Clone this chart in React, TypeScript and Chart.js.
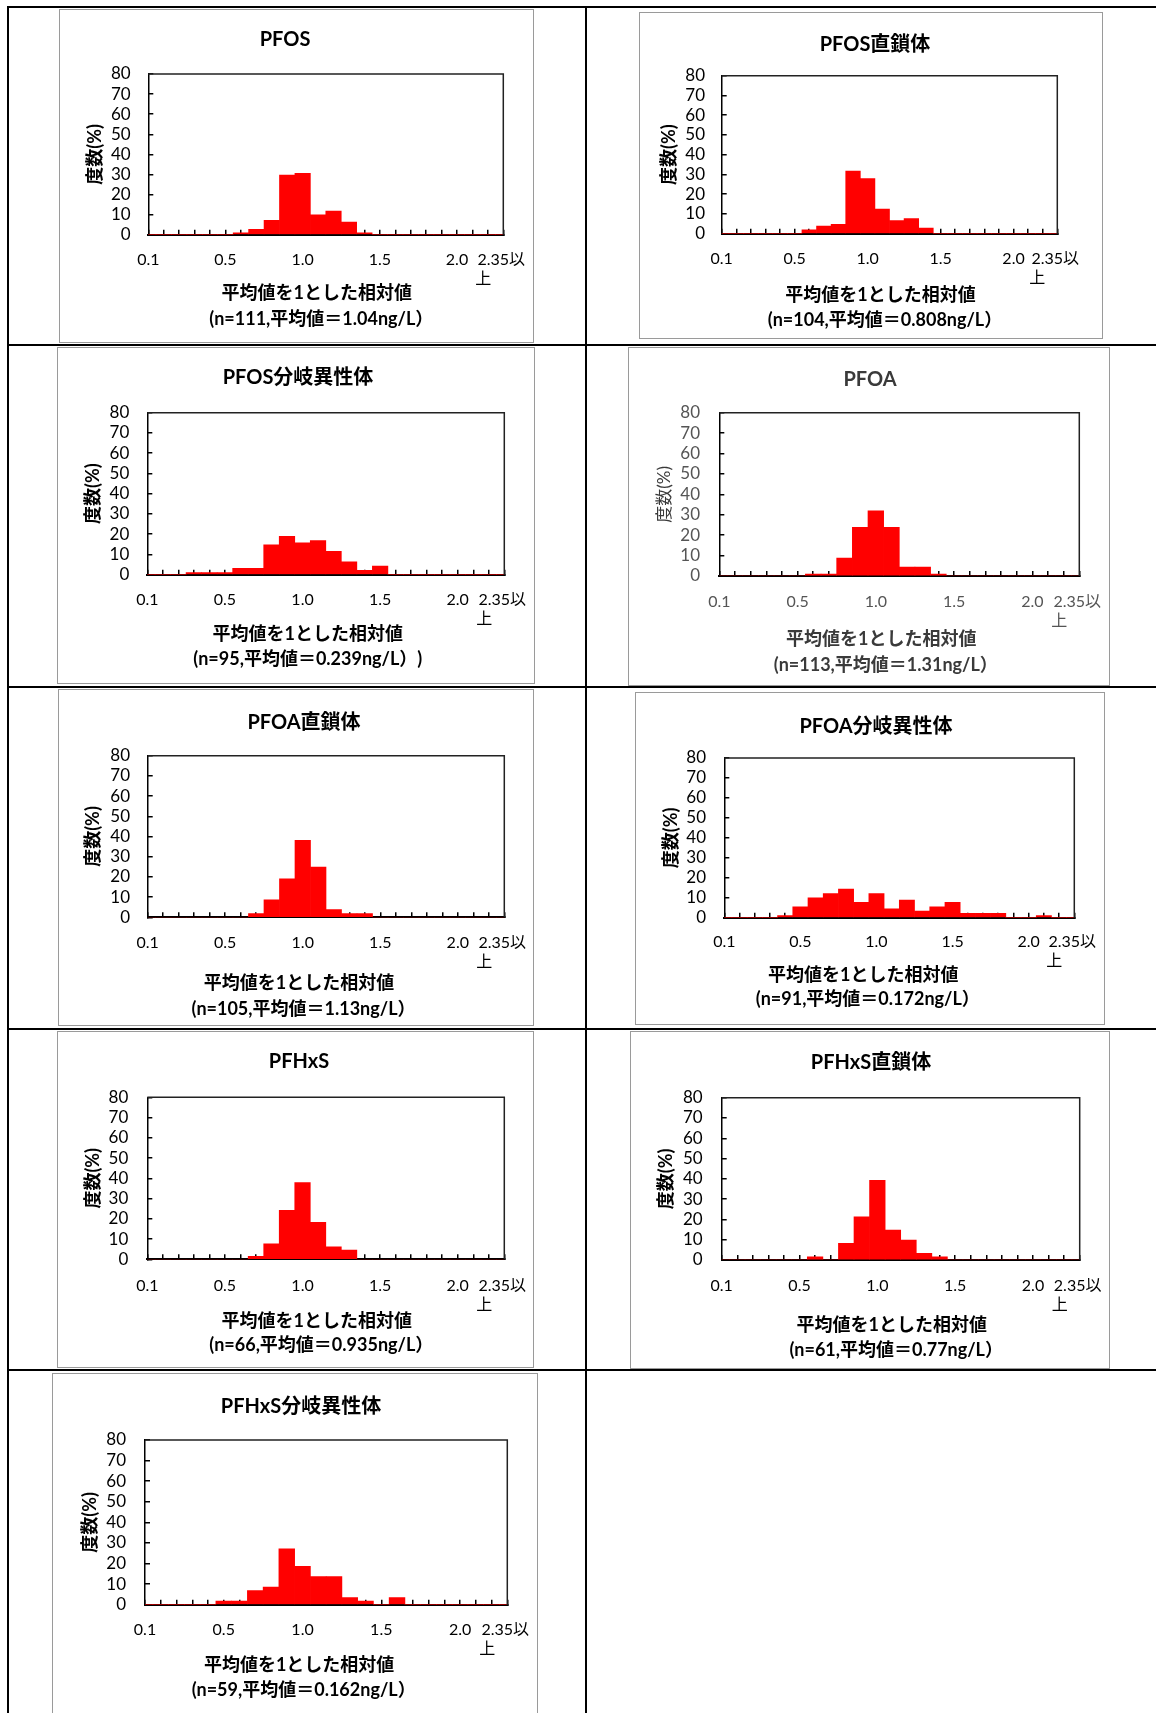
import React, { useEffect, useRef } from 'react';
import { Chart, registerables } from 'chart.js';

Chart.register(...registerables);

const FONT = "Lato, 'Noto Sans CJK JP', 'Noto Sans', sans-serif";

// x axis: 24 bins (index 0..23), labels on selected bins
const X_TICK_LABELS: (string | string[])[] = [
  '0.1', '', '', '', '', '0.5', '', '', '', '', '1.0', '', '', '', '', '1.5', '', '', '', '', '2.0', '', '',
  ['2.35以 ', '上\u3000\u3000\u2002'],
];
const Y_MIN = 0;
const Y_MAX = 80;
const Y_STEP = 10;
const X_AXIS_TITLE = '平均値を1とした相対値';
const Y_AXIS_TITLE = '度数(%)';

const TITLES = [
  'PFOS', 'PFOS直鎖体', 'PFOS分岐異性体', 'PFOA', 'PFOA直鎖体', 'PFOA分岐異性体', 'PFHxS', 'PFHxS直鎖体', 'PFHxS分岐異性体',
];
const NOTES = [
  '(n=111,平均値＝1.04ng/L）',
  '(n=104,平均値＝0.808ng/L）',
  '(n=95,平均値＝0.239ng/L）)',
  '(n=113,平均値＝1.31ng/L）',
  '(n=105,平均値＝1.13ng/L）',
  '(n=91,平均値＝0.172ng/L）',
  '(n=66,平均値＝0.935ng/L）',
  '(n=61,平均値＝0.77ng/L）',
  '(n=59,平均値＝0.162ng/L）',
];

// frequency (%) per bin
const PFOS = [0, 0, 0, 0, 0, 0, 0.9, 2.7, 7.2, 29.7, 30.6, 9.9, 11.7, 6.3, 0.9, 0, 0, 0, 0, 0, 0, 0, 0, 0];
const PFOS_LINEAR = [0, 0, 0, 0, 0, 0, 1.9, 3.8, 4.8, 31.7, 27.9, 12.5, 6.7, 7.7, 2.9, 0, 0, 0, 0, 0, 0, 0, 0, 0];
const PFOS_BRANCHED = [0, 0, 0, 1.1, 1.1, 1.1, 3.2, 3.2, 14.7, 18.9, 15.8, 16.8, 11.6, 6.3, 2.1, 4.2, 0, 0, 0, 0, 0, 0, 0, 0];
const PFOA = [0, 0, 0, 0, 0, 0, 0.9, 0.9, 8.8, 23.9, 31.9, 23.9, 4.4, 4.4, 0.9, 0, 0, 0, 0, 0, 0, 0, 0, 0];
const PFOA_LINEAR = [0, 0, 0, 0, 0, 0, 0, 1.9, 8.6, 19.0, 38.1, 24.8, 3.8, 1.9, 1.9, 0, 0, 0, 0, 0, 0, 0, 0, 0];
const PFOA_BRANCHED = [0, 0, 0, 0, 1.1, 5.5, 9.9, 12.1, 14.3, 7.7, 12.1, 4.4, 8.8, 3.3, 5.5, 7.7, 2.2, 2.2, 2.2, 0, 0, 1.1, 0, 0];
const PFHXS = [0, 0, 0, 0, 0, 0, 0, 1.5, 7.6, 24.2, 37.9, 18.2, 6.1, 4.5, 0, 0, 0, 0, 0, 0, 0, 0, 0, 0];
const PFHXS_LINEAR = [0, 0, 0, 0, 0, 0, 1.6, 0, 8.2, 21.3, 39.3, 14.8, 9.8, 3.3, 1.6, 0, 0, 0, 0, 0, 0, 0, 0, 0];
const PFHXS_BRANCHED = [0, 0, 0, 0, 0, 1.7, 1.7, 6.8, 8.5, 27.1, 18.6, 13.6, 13.6, 3.4, 1.7, 0, 3.4, 0, 0, 0, 0, 0, 0, 0];

const SERIES = [PFOS, PFOS_LINEAR, PFOS_BRANCHED, PFOA, PFOA_LINEAR, PFOA_BRANCHED, PFHXS, PFHXS_LINEAR, PFHXS_BRANCHED];

// page layout (page px): chart box, plot area, text anchors
type Spec = {
  box: [number, number, number, number];
  plot: [number, number, number, number];
  titleCx: number; titleCy: number; yTitleCx: number; yTickGap: number;
  xTick: number; xt1: number; xt2: number; xShift: number; dim?: boolean;
};
const LAYOUT: Spec[] = [
  { box: [59, 9, 475, 334], plot: [148.3, 74, 503.3, 234.7], titleCx: 285, titleCy: 39.3, yTitleCx: 94.7, yTickGap: 17.6, xTick: 25.3, xt1: 58.6, xt2: 84.6, xShift: 1 },
  { box: [639, 12, 464, 327], plot: [721.7, 75.7, 1057.3, 233.7], titleCx: 875, titleCy: 44.8, yTitleCx: 669, yTickGap: 16.7, xTick: 25.3, xt1: 61.3, xt2: 86.3, xShift: 1 },
  { box: [57, 347, 478, 337], plot: [147.3, 412.7, 504.3, 574.7], titleCx: 298, titleCy: 378, yTitleCx: 93, yTickGap: 18, xTick: 25.3, xt1: 59.6, xt2: 84.6, xShift: 2 },
  { box: [628, 347, 482, 339], plot: [719.3, 412.7, 1079.3, 576], titleCx: 870, titleCy: 380, yTitleCx: 664.3, yTickGap: 19.3, xTick: 25.7, xt1: 63.3, xt2: 89, xShift: 2, dim: true },
  { box: [58, 689, 476, 337], plot: [147.7, 755.7, 504.3, 917.3], titleCx: 304, titleCy: 723, yTitleCx: 93, yTickGap: 17.7, xTick: 26, xt1: 66, xt2: 92, xShift: 3 },
  { box: [635, 692, 470, 333], plot: [724.3, 758, 1074.3, 917.7], titleCx: 876, titleCy: 726.6, yTitleCx: 670.8, yTickGap: 18.3, xTick: 24.6, xt1: 57.3, xt2: 81.6, xShift: 4 },
  { box: [57, 1031, 477, 337], plot: [147.3, 1097.3, 504.3, 1259.3], titleCx: 299, titleCy: 1062, yTitleCx: 93.3, yTickGap: 19, xTick: 26.4, xt1: 61.4, xt2: 86, xShift: 1 },
  { box: [630, 1031, 480, 338], plot: [721.7, 1097.7, 1079.7, 1260], titleCx: 871, titleCy: 1063, yTitleCx: 665.8, yTickGap: 19, xTick: 26, xt1: 65, xt2: 90, xShift: 1 },
  { box: [52, 1373, 486, 345], plot: [145, 1440, 507.3, 1604.7], titleCx: 301, titleCy: 1407, yTitleCx: 89.7, yTickGap: 19, xTick: 25.3, xt1: 60.3, xt2: 85.3, xShift: 3 },
];

const TITLE_SIZE = 20;
const TITLE_LH = 24;
const TICK_SIZE = 17;
const TICK_LH = 19;
const YTITLE_SIZE = 18;
const YTITLE_LH = 22;
const XTITLE_SIZE = 18;
const TICK_LEN = -5;
const Y_LABEL_ROOM = 32;

const framePlugin = {
  id: 'plotFrame',
  afterDraw(chart: any) {
    const { ctx, chartArea } = chart;
    const { left, top, right, bottom } = chartArea;
    ctx.save();
    ctx.strokeStyle = '#222';
    ctx.lineWidth = 1.5;
    ctx.beginPath();
    ctx.moveTo(left, top);
    ctx.lineTo(right, top);
    ctx.lineTo(right, bottom);
    ctx.stroke();
    ctx.restore();
  },
};

function Histogram({ idx }: { idx: number }) {
  const ref = useRef<HTMLCanvasElement>(null);
  const s = LAYOUT[idx];
  const [bx, by, bw, bh] = s.box;

  useEffect(() => {
    const [pl, pt, pr, pb] = s.plot;
    const padLAbs = Math.min(2 * s.titleCx - pr, pl - s.yTickGap - Y_LABEL_ROOM);
    const y2W = Math.max(0, 2 * s.titleCx - padLAbs - pr);
    const padL = padLAbs - bx;
    const padR = bx + bw - pr - y2W;
    const yW = pl - padLAbs;
    const titlePadTop = s.titleCy - by - TITLE_LH / 2;
    const titlePadBottom = pt - s.titleCy - TITLE_LH / 2;
    const L = s.xt2 - s.xt1;
    const xH = s.xt2 + L / 2;
    const padB = by + bh - (pb + xH);
    const yTitleLH = s.dim ? 20 : YTITLE_LH;
    const yTitlePad = s.yTitleCx - padLAbs - yTitleLH / 2;
    const textColor = s.dim ? '#3a3a3a' : '#000';
    const tickColor = s.dim ? '#555' : '#000';
    const values = SERIES[idx];
    const pad = '\u3000'.repeat(s.xShift);

    const chart = new Chart(ref.current as HTMLCanvasElement, {
      type: 'bar',
      data: {
        datasets: [
          {
            data: values.map((v, i) => ({ x: i, y: v })),
            backgroundColor: '#FF0000',
            borderWidth: 0,
            barPercentage: 1,
            categoryPercentage: 1,
          },
        ],
      },
      plugins: [framePlugin],
      options: {
        animation: false,
        responsive: false,
        devicePixelRatio: 1,
        layout: { padding: { left: padL, right: padR, top: 0, bottom: padB } },
        plugins: {
          legend: { display: false },
          tooltip: { enabled: false },
          title: {
            display: true,
            text: TITLES[idx],
            color: textColor,
            font: { family: FONT, size: TITLE_SIZE, weight: 'bold', lineHeight: `${TITLE_LH}px` },
            padding: { top: titlePadTop, bottom: titlePadBottom },
          },
        },
        scales: {
          x: {
            type: 'linear',
            min: 0,
            max: 23,
            offset: false,
            z: 1,
            afterBuildTicks: (scale: any) => {
              scale.ticks = X_TICK_LABELS.map((_, i) => ({ value: i }));
            },
            afterFit: (scale: any) => {
              scale.height = xH;
              scale.paddingLeft = 0;
              scale.paddingRight = 0;
            },
            grid: {
              offset: false,
              drawOnChartArea: false,
              drawTicks: true,
              tickLength: TICK_LEN,
              color: '#000',
              lineWidth: 1.5,
            },
            border: { display: true, color: '#000', width: 2 },
            ticks: {
              autoSkip: false,
              maxRotation: 0,
              minRotation: 0,
              padding: s.xTick - TICK_LH / 2 - TICK_LEN,
              color: tickColor,
              font: { family: FONT, size: TICK_SIZE - 1, lineHeight: `${TICK_LH}px` },
              callback: (v: any) => X_TICK_LABELS[Number(v)] ?? '',
            },
            title: {
              display: true,
              text: [X_AXIS_TITLE + pad, NOTES[idx] + pad],
              color: textColor,
              font: { family: FONT, size: XTITLE_SIZE, weight: 'bold', lineHeight: `${L}px` },
              padding: { top: 0, bottom: 0 },
            },
          },
          y: {
            min: Y_MIN,
            max: Y_MAX,
            z: 1,
            afterFit: (scale: any) => {
              scale.width = yW;
              scale.paddingTop = 0;
              scale.paddingBottom = 0;
            },
            grid: {
              drawOnChartArea: false,
              drawTicks: true,
              tickLength: TICK_LEN,
              color: '#000',
              lineWidth: 1.5,
            },
            border: { display: true, color: '#000', width: 1.5 },
            ticks: {
              stepSize: Y_STEP,
              autoSkip: false,
              padding: s.yTickGap - TICK_LEN,
              color: tickColor,
              font: { family: FONT, size: TICK_SIZE, lineHeight: `${TICK_LH}px` },
            },
            title: {
              display: true,
              text: Y_AXIS_TITLE,
              color: textColor,
              font: { family: FONT, size: s.dim ? 17 : YTITLE_SIZE, weight: s.dim ? 'normal' : 'bold', lineHeight: `${yTitleLH}px` },
              padding: { top: yTitlePad, bottom: 0 },
            },
          },
          y2: {
            position: 'right',
            display: true,
            min: Y_MIN,
            max: Y_MAX,
            afterFit: (scale: any) => {
              scale.width = y2W;
              scale.paddingTop = 0;
              scale.paddingBottom = 0;
            },
            grid: { display: false, drawTicks: false },
            border: { display: false },
            ticks: { display: false },
          },
        },
      } as any,
    });
    return () => chart.destroy();
  }, [idx]);

  return (
    <>
      <canvas
        ref={ref}
        width={bw}
        height={bh}
        style={{ position: 'absolute', left: bx, top: by, width: bw, height: bh }}
      />
      <div
        style={{
          position: 'absolute', left: bx, top: by, width: bw, height: bh,
          border: '1px solid #9a9a9a', boxSizing: 'border-box', pointerEvents: 'none',
        }}
      />
    </>
  );
}

const LINE = '#000';

export default function App() {
  const hLines = [6, 344, 686, 1028, 1369];
  const vLines = [7, 585];
  return (
    <div style={{ position: 'absolute', left: 0, top: 0, width: 1156, height: 1713, overflow: 'hidden', background: '#fff' }}>
      {SERIES.map((_, i) => (
        <Histogram key={i} idx={i} />
      ))}
      {hLines.map((y, i) => (
        <div key={'h' + i} style={{ position: 'absolute', left: 7, top: y, width: 1149, height: 2, background: LINE }} />
      ))}
      {vLines.map((x, i) => (
        <div key={'v' + i} style={{ position: 'absolute', left: x, top: 6, width: 2, height: 1707, background: LINE }} />
      ))}
    </div>
  );
}
